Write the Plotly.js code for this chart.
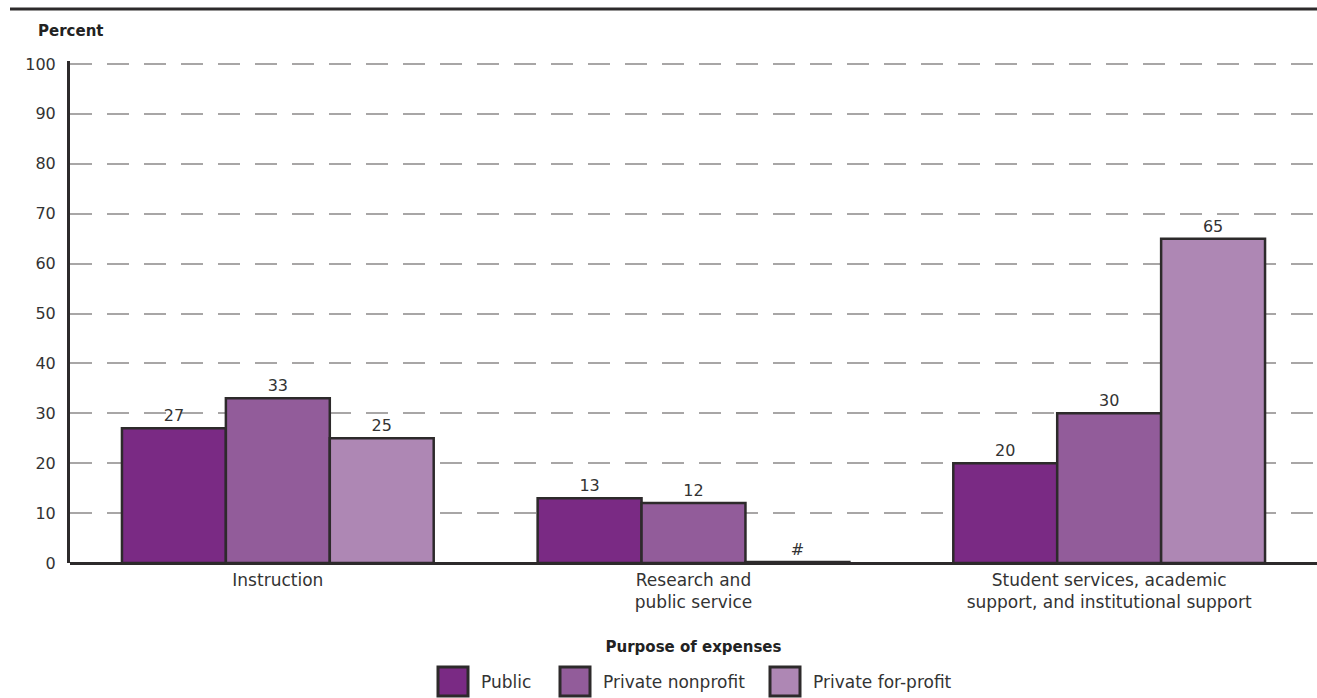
<!DOCTYPE html>
<html>
<head>
<meta charset="utf-8">
<script src="https://cdn.plot.ly/plotly-3.0.1.min.js"></script>
<style>
  html, body { margin: 0; padding: 0; background: #fff; }
  #chart { width: 1317px; height: 698px; }
</style>
</head>
<body>
<div id="chart"></div>
<script>
// Categories (purpose of expenses) and percentages by institution control
const categories = ["Instruction", "Research and<br>public service", "Student services, academic<br>support, and institutional support"];
const seriesNames = ["Public", "Private nonprofit", "Private for-profit"];
const publicValues = [27, 13, 20];
const nonprofitValues = [33, 12, 30];
const forprofitValues = [25, 0.2, 65];
const publicLabels = ["27", "13", "20"];
const nonprofitLabels = ["33", "12", "30"];
const forprofitLabels = ["25", "#", "65"];
const yTicks = [0, 10, 20, 30, 40, 50, 60, 70, 80, 90, 100];

const colors = ["#7a2a84", "#925c9a", "#ae87b4"];
const edge = "#2d2a2b";
const font = "DejaVu Sans, sans-serif";

const values = [publicValues, nonprofitValues, forprofitValues];
const labels = [publicLabels, nonprofitLabels, forprofitLabels];

const traces = seriesNames.map((name, i) => ({
  type: "bar",
  name: name,
  x: categories,
  y: values[i],
  text: labels[i],
  textposition: "outside",
  cliponaxis: false,
  textfont: { family: font, size: 16, color: "#333" },
  marker: { color: colors[i], line: { color: edge, width: 2.5 } },
  showlegend: false,
  hoverinfo: "x+y+name"
}));

// Plot area in pixels, used to place the legend and rules in paper units
const W = 1317, H = 698;
const M = { l: 70, r: 0, t: 61, b: 135 };
const pw = W - M.l - M.r, ph = H - M.t - M.b;
const px = x => (x - M.l) / pw;
const py = y => (H - M.b - y) / ph;

const shapes = [
  { type: "line", xref: "paper", yref: "paper", x0: px(10), x1: px(1317), y0: py(9), y1: py(9),
    line: { color: edge, width: 3 } }
];
const annotations = [
  { xref: "paper", yref: "paper", x: px(36), y: py(31), xanchor: "left", yanchor: "middle",
    text: "<b>Percent</b>", showarrow: false, font: { family: font, size: 15, color: "#222" } }
];

// Custom legend: large swatches with dark outlines
const legendX = [438, 560, 770];
seriesNames.forEach((name, i) => {
  const x0 = legendX[i];
  shapes.push({ type: "rect", xref: "paper", yref: "paper",
    x0: px(x0), x1: px(x0 + 30), y0: py(667), y1: py(696),
    fillcolor: colors[i], line: { color: edge, width: 3 } });
  annotations.push({ xref: "paper", yref: "paper", x: px(x0 + 41), y: py(682),
    xanchor: "left", yanchor: "middle", text: name, showarrow: false,
    font: { family: font, size: 17, color: "#333" } });
});

const layout = {
  width: W, height: H,
  margin: M,
  paper_bgcolor: "#fff", plot_bgcolor: "#fff",
  barmode: "group", bargap: 0.25, bargroupgap: 0,
  font: { family: font, size: 16, color: "#333" },
  xaxis: {
    type: "category",
    range: [-0.5, 2.5],
    showgrid: false, showline: false, ticks: "",
    ticklabelstandoff: 5,
    tickfont: { family: font, size: 17, color: "#333" },
    title: { text: "<b>Purpose of expenses</b>", standoff: 30,
             font: { family: font, size: 15, color: "#222" } },
    fixedrange: true
  },
  yaxis: {
    range: [0, 100.6],
    tickvals: yTicks,
    ticks: "", ticklabelstandoff: 8,
    tickfont: { family: font, size: 16, color: "#333" },
    showgrid: true, gridcolor: "#a8a6a6", gridwidth: 2, griddash: "22px,15px",
    zeroline: true, zerolinecolor: edge, zerolinewidth: 3,
    showline: true, linecolor: edge, linewidth: 3,
    fixedrange: true
  },
  shapes: shapes,
  annotations: annotations,
  showlegend: false
};

Plotly.newPlot("chart", traces, layout, { displayModeBar: false, staticPlot: true });
</script>
</body>
</html>
